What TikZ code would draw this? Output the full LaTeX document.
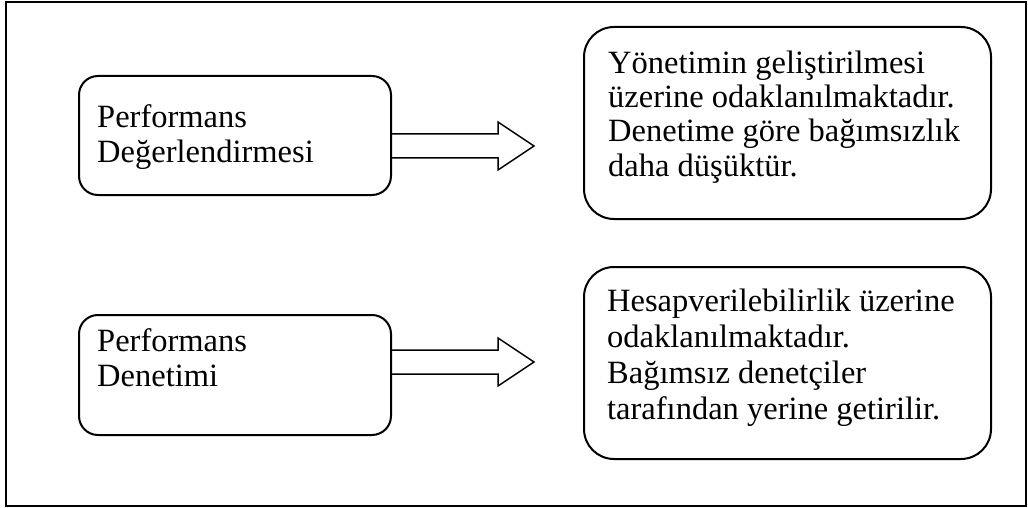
\documentclass[tikz,border=0pt]{standalone}
\usepackage{fontspec}
\setmainfont{Liberation Serif}
\begin{document}
\begin{tikzpicture}[x=1pt,y=-1pt,
  frame/.style={draw=black,line width=2pt},
  box/.style={draw=black,line width=2pt},
  txt/.style={anchor=base west,inner sep=0pt,font=\fontsize{32.5}{36}\selectfont},
  blockarrow/.style={draw=black,line width=1.5pt,line join=miter}]
\useasboundingbox (0,0) rectangle (1028,508);
\draw[frame] (6,2) rectangle (1026,506);
% boxes
\node[box,rounded corners=19pt,minimum width=312pt,minimum height=119pt,anchor=north west] (p1) at (78,75) {};
\node[box,rounded corners=19pt,minimum width=312pt,minimum height=120pt,anchor=north west] (p2) at (78,314) {};
\node[box,rounded corners=30pt,minimum width=407pt,minimum height=192pt,anchor=north west] (q1) at (583,26) {};
\node[box,rounded corners=30pt,minimum width=407pt,minimum height=192pt,anchor=north west] (q2) at (583,266) {};
% texts
\node[txt] (a1) at (97,128) {Performans};
\node[txt] (a2) at (97,162) {Değerlendirmesi};
\node[txt] (b1) at (97,351) {Performans};
\node[txt] (b2) at (97,386) {Denetimi};
\node[txt] (c1) at (608,74) {Yönetimin geliştirilmesi};
\node[txt] (c2) at (608,108) {üzerine odaklanılmaktadır.};
\node[txt] (c3) at (608,142) {Denetime göre bağımsızlık};
\node[txt] (c4) at (608,176) {daha düşüktür.};
\node[txt] (d1) at (607,311) {Hesapverilebilirlik üzerine};
\node[txt] (d2) at (607,347) {odaklanılmaktadır.};
\node[txt] (d3) at (607,383) {Bağımsız denetçiler};
\node[txt] (d4) at (607,419) {tarafından yerine getirilir.};
% arrows
\draw[blockarrow] (p1.east |- 0,134) -- (498,134) -- (498,122) -- (534,146) -- (498,170) -- (498,158) -- (p1.east |- 0,158);
\draw[blockarrow] (p2.east |- 0,350) -- (498,350) -- (498,338) -- (534,362) -- (498,386) -- (498,374) -- (p2.east |- 0,374);
\end{tikzpicture}
\end{document}
